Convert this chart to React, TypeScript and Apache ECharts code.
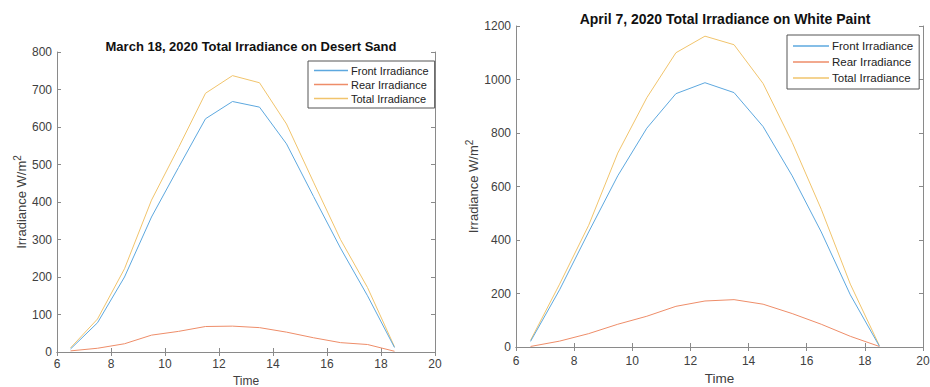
import React, { useEffect, useRef } from "react";
import * as echarts from "echarts";

const times = [6.5, 7.5, 8.5, 9.5, 10.5, 11.5, 12.5, 13.5, 14.5, 15.5, 16.5, 17.5, 18.5];

const sandFront = [8, 78, 200, 360, 492, 622, 668, 653, 555, 415, 277, 150, 12];
const sandRear = [3, 10, 22, 45, 55, 68, 69, 65, 53, 38, 25, 20, 2];
const sandTotal = [11, 88, 222, 405, 545, 690, 737, 718, 608, 453, 300, 172, 14];

const paintFront = [21, 214, 430, 640, 818, 947, 988, 951, 824, 640, 430, 195, 3];
const paintRear = [2, 22, 50, 85, 115, 152, 172, 177, 160, 125, 85, 40, 2];
const paintTotal = [25, 235, 455, 725, 932, 1100, 1162, 1130, 985, 765, 515, 235, 5];

const seriesNames = ["Front Irradiance", "Rear Irradiance", "Total Irradiance"];
const colors = ["#5DA8DF", "#EE8D69", "#F1C46C"];
const titles = [
  "March 18, 2020 Total Irradiance on Desert Sand",
  "April 7, 2020 Total Irradiance on White Paint",
];

const FONT = "Liberation Sans, Arial, Helvetica, sans-serif";
const AXIS_COLOR = "#8a8a8a";
const LABEL_COLOR = "#404040";

function pairs(vals: number[]) {
  return times.map((t, i) => [t, vals[i]]);
}

export default function App() {
  const ref = useRef<HTMLDivElement>(null);
  useEffect(() => {
    if (!ref.current) return;
    const chart = echarts.init(ref.current, undefined, { renderer: "svg" });

    const grids = [
      { left: 57, top: 52, width: 378, height: 300 },
      { left: 516, top: 26, width: 407, height: 321 },
    ];

    const baseAxis = {
      axisLine: { show: true, lineStyle: { color: AXIS_COLOR, width: 1 } },
      axisTick: { show: true, inside: true, length: 4, lineStyle: { color: AXIS_COLOR } },
      splitLine: { show: false },
    };

    const xAxes: any[] = [];
    const yAxes: any[] = [];
    const yMax = [800, 1200];
    const yInt = [100, 200];
    const xNameGap = [28, 31];
    const yNameGap = [34, 43];
    const xLabelMargin = [6, 8];
    const nameFs = [12, 13.5];

    for (let g = 0; g < 2; g++) {
      xAxes.push({
        ...baseAxis,
        type: "value",
        gridIndex: g,
        min: 6,
        max: 20,
        interval: 2,
        position: "bottom",
        name: "Time",
        nameLocation: "middle",
        nameGap: xNameGap[g],
        nameTextStyle: {
          fontFamily: FONT,
          fontSize: nameFs[g],
          lineHeight: nameFs[g],
          color: LABEL_COLOR,
          verticalAlign: "middle",
        },
        axisLabel: { fontFamily: FONT, fontSize: 12, color: LABEL_COLOR, margin: xLabelMargin[g] },
      });
      xAxes.push({
        ...baseAxis,
        type: "value",
        gridIndex: g,
        min: 6,
        max: 20,
        interval: 2,
        position: "top",
        axisLabel: { show: false },
      });
      yAxes.push({
        ...baseAxis,
        type: "value",
        gridIndex: g,
        min: 0,
        max: yMax[g],
        interval: yInt[g],
        position: "left",
        name: "{a|Irradiance W/m}{b|2}",
        nameLocation: "middle",
        nameGap: yNameGap[g],
        nameRotate: 90,
        nameTextStyle: {
          fontFamily: FONT,
          color: LABEL_COLOR,
          verticalAlign: "middle",
          rich: {
            a: { fontFamily: FONT, fontSize: 13, color: LABEL_COLOR, verticalAlign: "bottom", lineHeight: 16 },
            b: { fontFamily: FONT, fontSize: 10, color: LABEL_COLOR, verticalAlign: "top", lineHeight: 16 },
          },
        },
        axisLabel: {
          fontFamily: FONT,
          fontSize: 12,
          color: LABEL_COLOR,
          margin: 5,
          formatter: (v: number) => String(v),
        },
      });
      yAxes.push({
        ...baseAxis,
        type: "value",
        gridIndex: g,
        min: 0,
        max: yMax[g],
        interval: yInt[g],
        position: "right",
        axisLabel: { show: false },
      });
    }

    const data = [
      [sandFront, sandRear, sandTotal],
      [paintFront, paintRear, paintTotal],
    ];
    const series: any[] = [];
    for (let g = 0; g < 2; g++) {
      for (let s = 0; s < 3; s++) {
        series.push({
          type: "line",
          name: seriesNames[s],
          xAxisIndex: g * 2,
          yAxisIndex: g * 2,
          data: pairs(data[g][s]),
          showSymbol: false,
          symbol: "none",
          lineStyle: { color: colors[s], width: 1 },
          itemStyle: { color: colors[s] },
          z: 3 - s,
        });
      }
    }

    chart.setOption({
      animation: false,
      color: colors,
      title: [
        {
          text: titles[0],
          left: 246,
          top: 35,
          textAlign: "center",
          textStyle: { fontFamily: FONT, fontSize: 13, fontWeight: "bold", color: "#111" },
        },
        {
          text: titles[1],
          left: 720,
          top: 7,
          textAlign: "center",
          textStyle: { fontFamily: FONT, fontSize: 14, fontWeight: "bold", color: "#111" },
        },
      ],
      legend: [
        {
          data: seriesNames,
          orient: "vertical",
          left: 308,
          top: 61,
          itemWidth: 34,
          itemHeight: 1.5,
          itemGap: 3,
          icon: "rect",
          padding: [4, 6, 4, 6],
          borderColor: "#555",
          borderWidth: 1,
          backgroundColor: "#fff",
          selectedMode: false,
          textStyle: { fontFamily: FONT, fontSize: 11, color: "#222", padding: [0, 0, 0, -2] },
        },
        {
          data: seriesNames,
          orient: "vertical",
          left: 787,
          top: 35,
          itemWidth: 36,
          itemHeight: 1.5,
          itemGap: 4,
          icon: "rect",
          padding: [5, 6, 5, 6],
          borderColor: "#555",
          borderWidth: 1,
          backgroundColor: "#fff",
          selectedMode: false,
          textStyle: { fontFamily: FONT, fontSize: 11.5, color: "#222", padding: [0, 0, 0, -2] },
        },
      ],
      grid: grids.map((g) => ({ ...g, containLabel: false, outerBoundsMode: "none" })),
      xAxis: xAxes,
      yAxis: yAxes,
      series,
    });

    return () => chart.dispose();
  }, []);

  return <div ref={ref} style={{ width: 930, height: 387, position: "absolute", left: 0, top: 0, background: "#fff" }} />;
}
